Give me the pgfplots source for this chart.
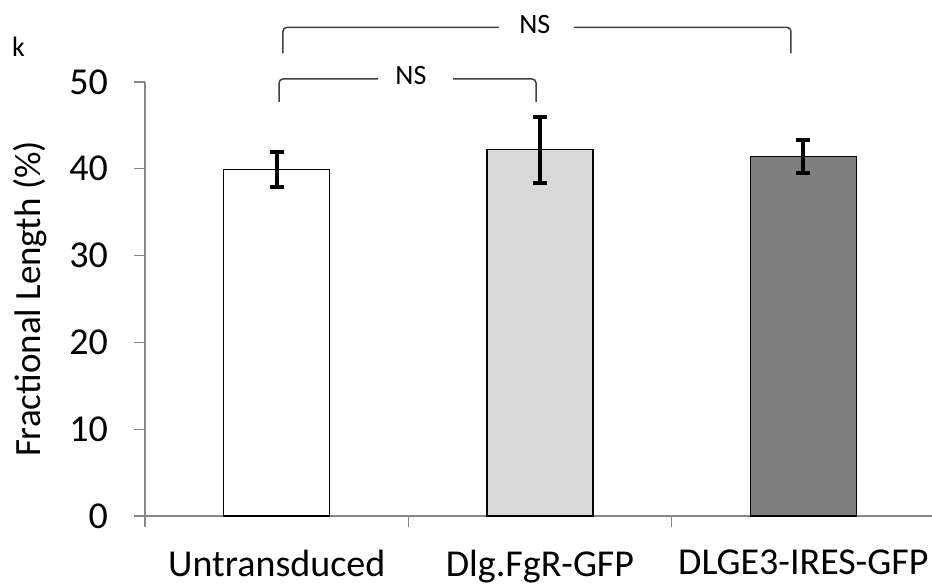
\documentclass[border=0pt]{standalone}
\usepackage{fontspec}
\setmainfont{Carlito}
\usepackage{pgfplots}
\pgfplotsset{compat=1.18}
\definecolor{axgray}{HTML}{868686}
\definecolor{brk}{HTML}{404040}
\definecolor{lgray}{HTML}{D9D9D9}
\definecolor{dgray}{HTML}{7F7F7F}
\begin{document}
\begin{tikzpicture}[x=1pt,y=1pt]
\path[use as bounding box] (-145,-69) rectangle (787,516);
\begin{axis}[
  at={(0,0)}, anchor=south west,
  scale only axis, width=790pt, height=434pt,
  xmin=-0.5, xmax=2.5, ymin=0, ymax=50,
  enlargelimits=false, clip=false,
  ybar,
  axis x line*=bottom, axis y line*=left,
  axis line style={axgray, line width=1.3pt},
  ytick={0,10,20,30,40,50},
  xtick={0,1,2},
  xticklabels={Untransduced, Dlg.FgR-GFP, DLGE3-IRES-GFP},
  tick align=outside,
  major tick length=11pt,
  xtick style={draw=none},
  ytick style={axgray, line width=1.3pt},
  /pgf/number format/assume math mode=true,
  ticklabel style={font=\fontsize{38}{44}\selectfont},
  yticklabel style={inner sep=0pt, anchor=east},
  yticklabel shift=26pt,
  xticklabel style={inner sep=0pt, anchor=north},
  xticklabel shift=23pt,
  ylabel={Fractional Length (\%)},
  ylabel style={font=\fontsize{37}{43}\selectfont, at={(axis description cs:-0.146,0.5)}, anchor=center},
]
\addplot[ybar, bar width=106pt, bar shift=0pt, fill=white, draw=black, line width=1.2pt,
  error bars/.cd, y dir=both, y explicit,
  error bar style={line width=4pt, black},
  error mark options={line width=4pt, mark size=7pt, rotate=90, black}]
  coordinates {(0,39.9) +- (0,2.0)};
\addplot[ybar, bar width=106pt, bar shift=0pt, fill=lgray, draw=black, line width=1.2pt,
  error bars/.cd, y dir=both, y explicit,
  error bar style={line width=4pt, black},
  error mark options={line width=4pt, mark size=7pt, rotate=90, black}]
  coordinates {(1,42.2) +- (0,3.8)};
\addplot[ybar, bar width=106pt, bar shift=0pt, fill=dgray, draw=black, line width=1.2pt,
  error bars/.cd, y dir=both, y explicit,
  error bar style={line width=4pt, black},
  error mark options={line width=4pt, mark size=7pt, rotate=90, black}]
  coordinates {(2,41.4) +- (0,1.9)};
% category boundary ticks
\draw[axgray, line width=1.3pt] (axis cs:-0.5,0) -- ([yshift=-11pt]axis cs:-0.5,0);
\draw[axgray, line width=1.3pt] (axis cs:0.5,0) -- ([yshift=-11pt]axis cs:0.5,0);
\draw[axgray, line width=1.3pt] (axis cs:1.5,0) -- ([yshift=-11pt]axis cs:1.5,0);
% brackets
\draw[brk, line width=1.5pt, rounded corners=4pt] (axis cs:0.009,47.7) -- (axis cs:0.009,50.35) -- (axis cs:0.385,50.35);
\draw[brk, line width=1.5pt, rounded corners=4pt] (axis cs:0.670,50.35) -- (axis cs:0.985,50.35) -- (axis cs:0.985,47.7);
\node[font=\fontsize{28}{32}\selectfont] at (axis cs:0.51,50.7) {NS};
\draw[brk, line width=1.5pt, rounded corners=4pt] (axis cs:0.024,53.3) -- (axis cs:0.024,56.3) -- (axis cs:0.844,56.3);
\draw[brk, line width=1.5pt, rounded corners=4pt] (axis cs:1.129,56.3) -- (axis cs:1.953,56.3) -- (axis cs:1.953,53.3);
\node[font=\fontsize{28}{32}\selectfont] at (axis cs:0.98,56.6) {NS};
\node[font=\fontsize{28}{32}\selectfont] at (axis cs:-0.98,54.0) {k};
\end{axis}
\end{tikzpicture}
\end{document}
